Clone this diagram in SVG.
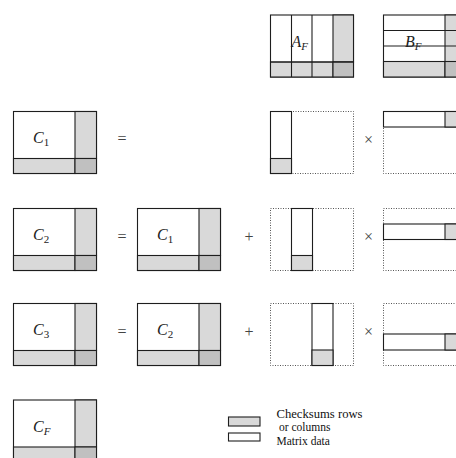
<svg xmlns="http://www.w3.org/2000/svg" width="456" height="458" viewBox="0 0 456 458">
<style>
.ln{stroke:#1e1e1e;stroke-width:1.1;fill:none}
.w{fill:#fff;stroke:#1e1e1e;stroke-width:1.1}
.g{fill:#d9d9d9;stroke:#1e1e1e;stroke-width:1.1}
.dg{fill:#c0c0c0;stroke:#1e1e1e;stroke-width:1.1}
.dot{fill:none;stroke:#555;stroke-width:1;stroke-dasharray:1,1.5}
.m{font-family:"Liberation Serif",serif;font-style:italic;font-size:16px;fill:#222}
.sub{font-style:normal;font-size:11px}
.subi{font-style:italic;font-size:11px}
.op{font-family:"Liberation Serif",serif;font-size:16px;fill:#444;text-anchor:middle}
.lg{font-family:"Liberation Serif",serif;font-size:11.5px;fill:#111}
</style>
<defs>
<g id="cbox">
<rect class="w" x="0" y="0" width="83" height="62"/>
<rect class="g" x="61.5" y="0" width="21.5" height="47"/>
<rect class="g" x="0" y="47" width="61.5" height="15"/>
<rect class="dg" x="61.5" y="47" width="21.5" height="15"/>
</g>
</defs>

<g id="AF">
<rect class="w" x="270.5" y="15" width="83" height="62"/>
<rect class="g" x="333" y="15" width="20.5" height="47"/>
<rect class="g" x="270.5" y="62" width="62.5" height="15"/>
<rect class="dg" x="333" y="62" width="20.5" height="15"/>
<line class="ln" x1="291.5" y1="15" x2="291.5" y2="77"/>
<line class="ln" x1="312" y1="15" x2="312" y2="77"/>
<line class="ln" x1="270.5" y1="62" x2="353.5" y2="62"/>
<text class="m" x="291.5" y="47">A<tspan class="subi" dy="3">F</tspan></text>
</g>

<g id="BF">
<rect class="w" x="383.5" y="15" width="83" height="62"/>
<rect class="g" x="445" y="15" width="21.5" height="47"/>
<rect class="g" x="383.5" y="61.5" width="61.5" height="15.5"/>
<rect class="dg" x="445" y="61.5" width="21.5" height="15.5"/>
<line class="ln" x1="383.5" y1="30.5" x2="466.5" y2="30.5"/>
<line class="ln" x1="383.5" y1="46" x2="466.5" y2="46"/>
<text class="m" x="405" y="47">B<tspan class="subi" dy="3">F</tspan></text>
</g>

<g id="C1">
<use href="#cbox" x="13.5" y="111.5"/>
<text class="m" x="33" y="143">C<tspan class="sub" dy="3">1</tspan></text>
</g>
<g id="C2">
<use href="#cbox" x="13.5" y="208.5"/>
<text class="m" x="33" y="240">C<tspan class="sub" dy="3">2</tspan></text>
</g>
<g id="C1b">
<use href="#cbox" x="137.5" y="208.5"/>
<text class="m" x="157" y="240">C<tspan class="sub" dy="3">1</tspan></text>
</g>
<g id="C3">
<use href="#cbox" x="13.5" y="303.5"/>
<text class="m" x="33" y="335">C<tspan class="sub" dy="3">3</tspan></text>
</g>
<g id="C2b">
<use href="#cbox" x="137.5" y="303.5"/>
<text class="m" x="157" y="335">C<tspan class="sub" dy="3">2</tspan></text>
</g>
<g id="CF">
<use href="#cbox" x="13.5" y="400"/>
<text class="m" x="33" y="432">C<tspan class="subi" dy="3">F</tspan></text>
</g>

<g id="ops">
<text class="op" x="122" y="144">=</text>
<text class="op" x="122" y="242">=</text>
<text class="op" x="122" y="337">=</text>
<text class="op" x="249" y="242">+</text>
<text class="op" x="249" y="337">+</text>
<text class="op" x="368.5" y="145">×</text>
<text class="op" x="368.5" y="242">×</text>
<text class="op" x="368.5" y="337">×</text>
</g>

<g id="A1">
<rect class="dot" x="270.5" y="111.5" width="83" height="62"/>
<rect class="w" x="270.5" y="111.5" width="21" height="62"/>
<rect class="g" x="270.5" y="158.5" width="21" height="15"/>
</g>
<g id="B1">
<rect class="dot" x="383.5" y="111.5" width="83" height="62"/>
<rect class="w" x="383.5" y="111.5" width="83" height="15.5"/>
<rect class="g" x="445" y="111.5" width="21.5" height="15.5"/>
</g>
<g id="A2">
<rect class="dot" x="270.5" y="208.5" width="83" height="62"/>
<rect class="w" x="291.5" y="208.5" width="21" height="62"/>
<rect class="g" x="291.5" y="255.5" width="21" height="15"/>
</g>
<g id="B2">
<rect class="dot" x="383.5" y="208.5" width="83" height="62"/>
<rect class="w" x="383.5" y="224" width="83" height="15.5"/>
<rect class="g" x="445" y="224" width="21.5" height="15.5"/>
</g>
<g id="A3">
<rect class="dot" x="270.5" y="303.5" width="83" height="62"/>
<rect class="w" x="312" y="303.5" width="21" height="62"/>
<rect class="g" x="312" y="350" width="21" height="15.5"/>
</g>
<g id="B3">
<rect class="dot" x="383.5" y="303.5" width="83" height="62"/>
<rect class="w" x="383.5" y="334" width="83" height="16"/>
<rect class="g" x="445" y="334" width="21.5" height="16"/>
</g>

<g id="legend">
<rect class="g" x="228.5" y="417" width="31.5" height="9"/>
<rect class="w" x="228.5" y="433" width="31.5" height="8"/>
<text class="lg" x="276.5" y="417.5" textLength="86" lengthAdjust="spacingAndGlyphs">Checksums rows</text>
<text class="lg" x="279" y="431">or columns</text>
<text class="lg" x="276.5" y="444.5">Matrix data</text>
</g>
</svg>
